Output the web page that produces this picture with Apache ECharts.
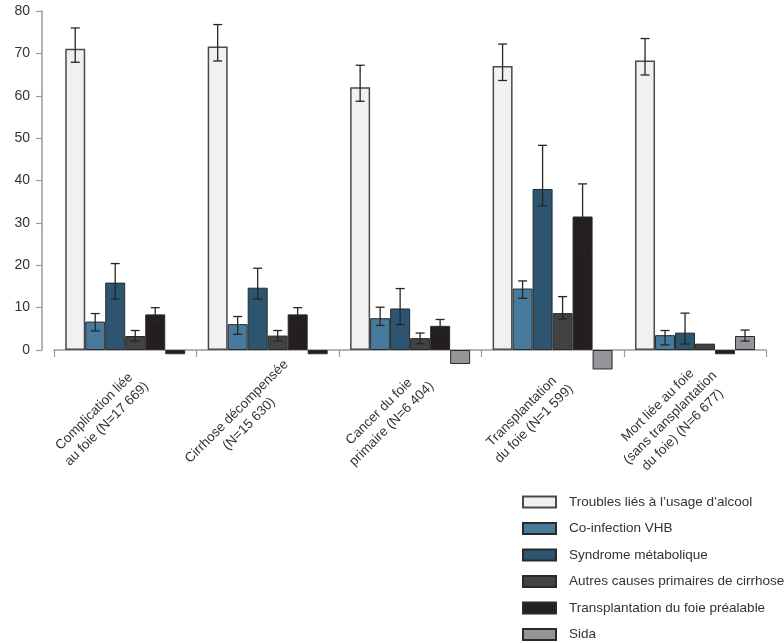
<!DOCTYPE html>
<html>
<head>
<meta charset="utf-8">
<script src="https://cdn.jsdelivr.net/npm/echarts@6/dist/echarts.min.js"></script>
<style>
  html, body { margin: 0; padding: 0; background: #fff; }
  #chart { width: 784px; height: 643px; }
</style>
</head>
<body>
<div id="chart"></div>
<script>
// categories (x axis)
const categories = [
  'Complication liée\nau foie (N=17 669)',
  'Cirrhose décompensée\n(N=15 630)',
  'Cancer du foie\nprimaire (N=6 404)',
  'Transplantation\ndu foie (N=1 599)',
  'Mort liée au foie\n(sans transplantation\ndu foie) (N=6 677)'
]
const seriesNames = [
  'Troubles liés à l\u2019usage d\u2019alcool',
  'Co-infection VHB',
  'Syndrome métabolique',
  'Autres causes primaires de cirrhose',
  'Transplantation du foie préalable',
  'Sida'
]
const yTicks = [0, 10, 20, 30, 40, 50, 60, 70, 80]

// values (%)
const alcool = [71.1, 71.6, 62.0, 67.0, 68.3]
const vhb = [6.7, 6.1, 7.5, 14.5, 3.5]
const metab = [15.9, 14.7, 9.8, 38.0, 4.1]
const autres = [3.3, 3.4, 2.8, 8.7, 1.5]
const transpl = [8.4, 8.4, 5.7, 31.5, -1.0]
const sida = [-1.0, -1.0, -3.3, -4.6, 3.3]

// confidence intervals [low, high], null = none
const alcoolCI = [[67.9, 76.0], [68.2, 76.8], [58.7, 67.2], [63.6, 72.2], [64.9, 73.5]]
const vhbCI = [[4.5, 8.6], [3.7, 7.9], [5.8, 10.1], [12.2, 16.3], [1.2, 4.6]]
const metabCI = [[12.0, 20.4], [12.0, 19.3], [6.0, 14.5], [34.0, 48.3], [1.4, 8.7]]
const autresCI = [[2.1, 4.6], [2.1, 4.6], [1.5, 4.0], [7.3, 12.6], null]
const transplCI = [[6.8, 10.0], [6.8, 10.0], [4.2, 7.2], [23.8, 39.2], null]
const sidaCI = [null, null, null, null, [2.1, 4.7]]

const colors = ['#f0f1f3', '#477a9c', '#2d5470', '#414244', '#231f20', '#939598']
const BAR_W = 20

const values = [alcool, vhb, metab, autres, transpl, sida]
const cis = [alcoolCI, vhbCI, metabCI, autresCI, transplCI, sidaCI]

let errData = []
cis.forEach((arr, s) => {
  arr.forEach((ci, c) => {
    if (ci) errData.push([c, s, ci[0], ci[1]])
  })
})

let barSeries = values.map((data, s) => {
  return {
    name: seriesNames[s],
    type: 'bar',
    barWidth: BAR_W,
    barGap: '0%',
    clip: false,
    data: s === 5
      ? data.map((v, i) => (i < 2 ? { value: v, itemStyle: { color: '#231f20' } } : v))
      : data,
    itemStyle: {
      color: colors[s],
      borderColor: s === 0 ? '#4a4a4a' : '#2a2a2a',
      borderWidth: s === 0 ? 1.5 : 1
    }
  }
})

let myChart = echarts.init(document.getElementById('chart'))
let option = {
  animation: false,
  textStyle: { fontFamily: 'Liberation Sans, Arial, sans-serif' },
  grid: { left: 54, right: 10, top: 11, bottom: 293, containLabel: false },
  legend: {
    orient: 'vertical',
    left: 522,
    top: 495,
    padding: 0,
    icon: 'rect',
    itemWidth: 33,
    itemHeight: 11,
    itemGap: 12.5,
    data: seriesNames,
    selectedMode: false,
    textStyle: {
      fontSize: 13.5,
      color: '#333',
      lineHeight: 14,
      padding: [0, 0, 0, 8]
    }
  },
  xAxis: {
    type: 'category',
    data: categories,
    axisLine: { lineStyle: { color: '#9a9a9a', width: 1.5 } },
    axisTick: { show: true, length: 7, lineStyle: { color: '#9a9a9a', width: 1.2 } },
    axisLabel: {
      interval: 0,
      rotate: 45,
      align: 'center',
      verticalAlign: 'middle',
      padding: [0, 70, 0, 0],
      margin: 43,
      fontSize: 13.5,
      lineHeight: 17.5,
      color: '#333'
    }
  },
  yAxis: {
    type: 'value',
    min: yTicks[0],
    max: yTicks[yTicks.length - 1],
    interval: 10,
    offset: 12,
    axisLine: { show: true, lineStyle: { color: '#9a9a9a', width: 1.5 } },
    axisTick: { show: true, length: 6, lineStyle: { color: '#9a9a9a', width: 1.2 } },
    axisLabel: { fontSize: 14, color: '#333', margin: 12 },
    splitLine: { show: false }
  },
  series: barSeries.concat([
    {
      type: 'custom',
      name: 'IC',
      z: 10,
      clip: false,
      data: errData,
      encode: { x: 0, y: [2, 3] },
      renderItem: (params, api) => {
        let cat = api.value(0)
        let s = api.value(1)
        let lo = api.coord([cat, api.value(2)])
        let hi = api.coord([cat, api.value(3)])
        let x = lo[0] + (s - 2.5) * BAR_W
        let style = { stroke: '#262626', lineWidth: 1.3 }
        return {
          type: 'group',
          children: [
            { type: 'line', shape: { x1: x, y1: lo[1], x2: x, y2: hi[1] }, style: style },
            { type: 'line', shape: { x1: x - 4.5, y1: lo[1], x2: x + 4.5, y2: lo[1] }, style: style },
            { type: 'line', shape: { x1: x - 4.5, y1: hi[1], x2: x + 4.5, y2: hi[1] }, style: style }
          ]
        }
      }
    }
  ])
}
myChart.setOption(option)
</script>
</body>
</html>
